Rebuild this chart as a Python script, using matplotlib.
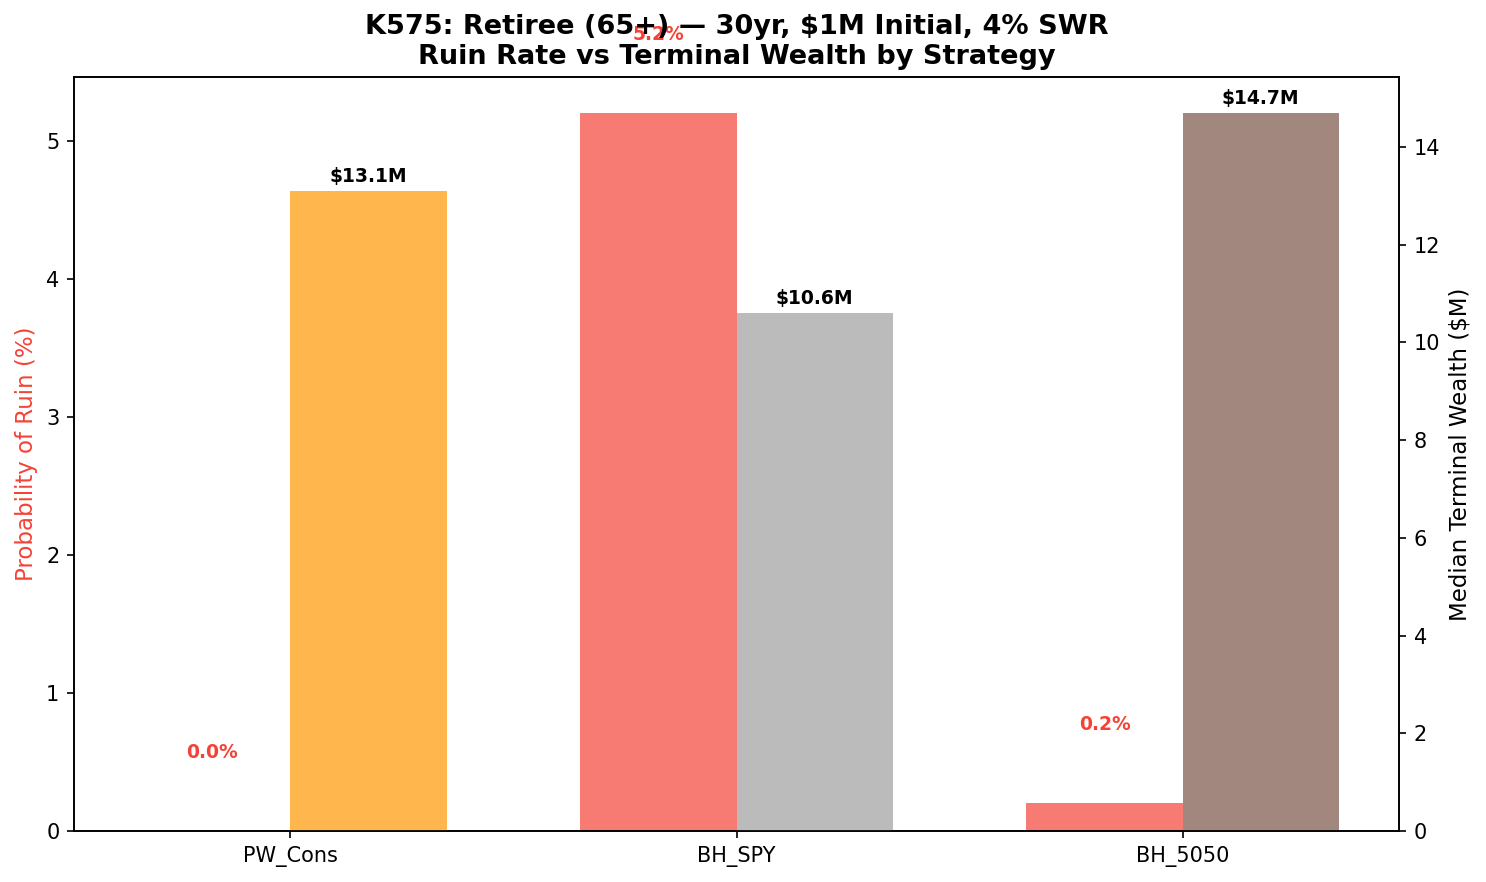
import matplotlib
matplotlib.use('Agg')
import matplotlib.pyplot as plt
import numpy as np

strategies = ['PW_Cons', 'BH_SPY', 'BH_5050']
ruinPct = [0.0, 5.2, 0.2]
wealthM = [13.1, 10.6, 14.7]
wealthColors = ['#FF9800', '#9E9E9E', '#795548']
ruinColor = '#F44336'

fig, ax1 = plt.subplots(figsize=(1486 / 150, 882 / 150), dpi=150)
fig.subplots_adjust(left=74 / 1486, right=1399 / 1486, top=1 - 77 / 882, bottom=1 - 831 / 882)
ax2 = ax1.twinx()

x = np.arange(len(strategies))
width = 0.35

ax1.bar(x - width / 2, ruinPct, width, color=ruinColor, alpha=0.7)
ax2.bar(x + width / 2, wealthM, width, color=wealthColors, alpha=0.7)

for i, v in enumerate(ruinPct):
    ax1.text(x[i] - width / 2, v + 0.5, '{:.1f}%'.format(v), ha='center', va='bottom',
             fontsize=9, fontweight='bold', color=ruinColor)
for i, v in enumerate(wealthM):
    ax2.text(x[i] + width / 2, v + 0.1, '${:.1f}M'.format(v), ha='center', va='bottom',
             fontsize=9, fontweight='bold', color='black')

ax1.set_ylim(0, max(ruinPct) * 1.05)
ax2.set_ylim(0, max(wealthM) * 1.05)
ax1.set_xticks(x)
ax1.set_xticklabels(strategies)
ax1.set_ylabel('Probability of Ruin (%)', color=ruinColor, fontsize=11)
ax2.set_ylabel('Median Terminal Wealth ($M)', fontsize=11)
ax1.set_title('K575: Retiree (65+) \u2014 30yr, $1M Initial, 4% SWR\nRuin Rate vs Terminal Wealth by Strategy',
              fontsize=13, fontweight='bold')

fig.savefig('out.png', dpi=150)
